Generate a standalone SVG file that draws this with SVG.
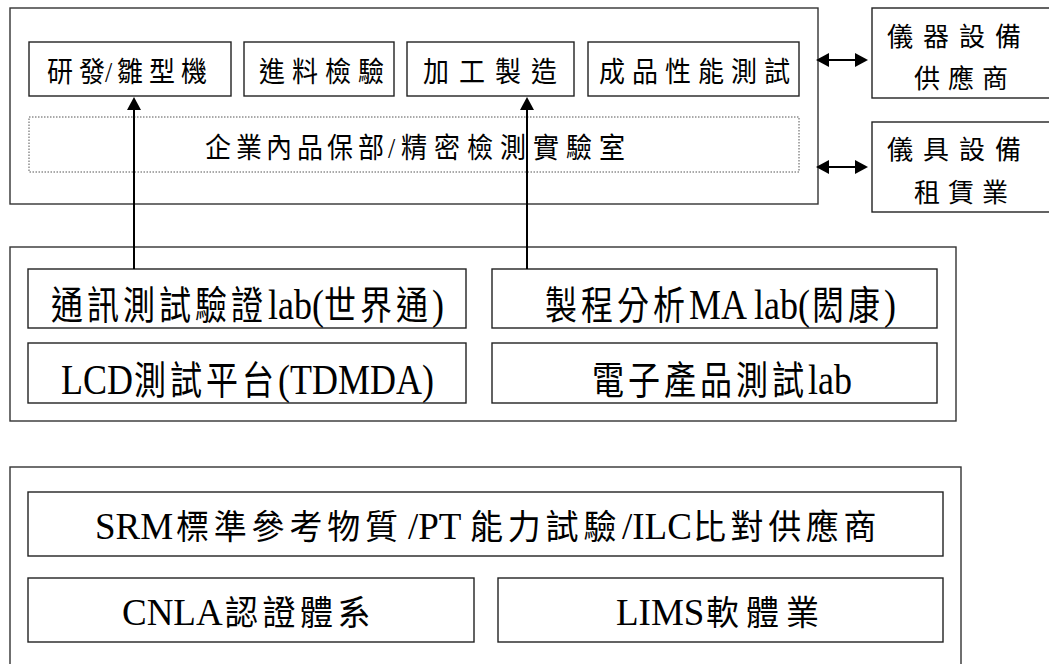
<svg xmlns="http://www.w3.org/2000/svg" width="1049" height="664" viewBox="0 0 1049 664">
  <style>
    .box { fill: #ffffff; stroke: #222222; stroke-width: 1.4; }
    .outer { fill: none; stroke: #333333; stroke-width: 1.4; }
    .dotted { fill: none; stroke: #555555; stroke-width: 1; stroke-dasharray: 1.5 1.5; }
    .link { fill: none; stroke: #000000; stroke-width: 2; }
    text { font-family: "Liberation Serif", "Noto Sans CJK TC", serif; fill: #000000; }
    .c { font-family: "Noto Sans CJK TC", "Noto Sans CJK SC", sans-serif; }
    .top .c { font-size: 26px; }
    .top .l { font-size: 26px; }
    .side .c { font-size: 26px; }
    .mid .c { font-size: 32px; }
    .mid .l { font-size: 36px; }
    .bot .c { font-size: 33px; }
    .bot .l { font-size: 37px; }
  </style>
  <defs>
    <marker id="head" viewBox="0 0 13 14" markerUnits="userSpaceOnUse" markerWidth="13" markerHeight="14" refX="6" refY="7" orient="auto-start-reverse">
      <path d="M0,0 L13,7 L0,14 z" fill="#000000"/>
    </marker>
  </defs>

  <!-- company-side block -->
  <g id="enterprise">
    <rect class="outer" x="10" y="8" width="808" height="196"/>
  </g>
  <g id="rd-prototype" class="top">
    <rect class="box" x="29" y="42" width="202" height="54"/>
    <text transform="translate(0,82) scale(1,1.1)"><tspan class="c" x="47 79" y="0">研發</tspan><tspan class="l" x="105" y="0">/</tspan><tspan class="c" x="117 149 181" y="0">雛型機</tspan></text>
  </g>
  <g id="incoming-inspection" class="top">
    <rect class="box" x="244" y="42" width="150" height="54"/>
    <text transform="translate(0,82) scale(1,1.1)"><tspan class="c" x="259 292 325 358" y="0">進料檢驗</tspan></text>
  </g>
  <g id="manufacturing" class="top">
    <rect class="box" x="407" y="42" width="167" height="54"/>
    <text transform="translate(0,82) scale(1,1.1)"><tspan class="c" x="423 459 495 531" y="0">加工製造</tspan></text>
  </g>
  <g id="product-test" class="top">
    <rect class="box" x="588" y="42" width="211" height="54"/>
    <text transform="translate(0,82) scale(1,1.1)"><tspan class="c" x="599 632 665 698 731 764" y="0">成品性能測試</tspan></text>
  </g>
  <g id="qa-lab" class="top">
    <rect class="dotted" x="29" y="117" width="770" height="55"/>
    <text transform="translate(0,158) scale(1,1.1)"><tspan class="c" x="205 236 266 297 327 358" y="0">企業內品保部</tspan><tspan class="l" x="388" y="0">/</tspan><tspan class="c" x="401 434 467 500 533 566 599" y="0">精密檢測實驗室</tspan></text>
  </g>

  <!-- equipment suppliers -->
  <g id="instrument-supplier" class="side">
    <rect class="box" x="872" y="8" width="190" height="90"/>
    <text><tspan class="c" x="887 923 959 995" y="46">儀器設備</tspan></text>
    <text><tspan class="c" x="914 948 982" y="88">供應商</tspan></text>
  </g>
  <g id="instrument-rental" class="side">
    <rect class="box" x="872" y="122" width="190" height="90"/>
    <text><tspan class="c" x="887 923 959 995" y="159">儀具設備</tspan></text>
    <text><tspan class="c" x="914 948 982" y="202">租賃業</tspan></text>
  </g>

  <!-- third-party labs -->
  <g id="labs">
    <rect class="outer" x="10" y="247" width="946" height="174"/>
  </g>
  <g id="telecom-lab" class="mid">
    <rect class="box" x="28" y="269" width="438" height="59"/>
    <text transform="translate(0,319) scale(1,1.2)"><tspan class="c" x="51 87 123 159 195 231" y="0">通訊測試驗證</tspan><tspan class="l" x="268" y="0">lab(</tspan><tspan class="c" x="324 360 396" y="0">世界通</tspan><tspan class="l" x="432" y="0">)</tspan></text>
  </g>
  <g id="process-lab" class="mid">
    <rect class="box" x="492" y="269" width="445" height="59"/>
    <text transform="translate(0,319) scale(1,1.2)"><tspan class="c" x="545 581 617 653" y="0">製程分析</tspan><tspan class="l" x="689" y="0">MA lab(</tspan><tspan class="c" x="812 848" y="0">閎康</tspan><tspan class="l" x="884" y="0">)</tspan></text>
  </g>
  <g id="lcd-platform" class="mid">
    <rect class="box" x="28" y="343" width="438" height="60"/>
    <text transform="translate(0,394) scale(1,1.2)"><tspan class="l" x="61" y="0">LCD</tspan><tspan class="c" x="134 170 206 242" y="0">測試平台</tspan><tspan class="l" x="278" y="0">(TDMDA)</tspan></text>
  </g>
  <g id="electronics-lab" class="mid">
    <rect class="box" x="492" y="343" width="445" height="60"/>
    <text transform="translate(0,394) scale(1,1.2)"><tspan class="c" x="592 628 664 700 736 772" y="0">電子產品測試</tspan><tspan class="l" x="808" y="0">lab</tspan></text>
  </g>

  <!-- supporting services -->
  <g id="services">
    <rect class="outer" x="10" y="467" width="951" height="220"/>
  </g>
  <g id="reference-materials" class="bot">
    <rect class="box" x="28" y="492" width="915" height="64"/>
    <text transform="translate(0,539) scale(1,1.05)"><tspan class="l" x="95" y="0">SRM</tspan><tspan class="c" x="176 213.8 251.6 289.4 327.2 365" y="0">標準參考物質</tspan><tspan class="l" x="408" y="0">/PT</tspan><tspan class="c" x="470 507.8 545.6 583.4" y="0">能力試驗</tspan><tspan class="l" x="622" y="0">/ILC</tspan><tspan class="c" x="693 730.6 768.2 805.8 843.4" y="0">比對供應商</tspan></text>
  </g>
  <g id="cnla" class="bot">
    <rect class="box" x="28" y="578" width="446" height="64"/>
    <text transform="translate(0,625) scale(1,1.05)"><tspan class="l" x="122" y="0">CNLA</tspan><tspan class="c" x="225 262.5 300 337.5" y="0">認證體系</tspan></text>
  </g>
  <g id="lims" class="bot">
    <rect class="box" x="498" y="578" width="445" height="64"/>
    <text transform="translate(0,625) scale(1,1.05)"><tspan class="l" x="616" y="0">LIMS</tspan><tspan class="c" x="706 746 786" y="0">軟體業</tspan></text>
  </g>

  <!-- connectors -->
  <g id="connectors">
    <line class="link" x1="134" y1="269" x2="134" y2="104" marker-end="url(#head)"/>
    <line class="link" x1="527" y1="269" x2="527" y2="104" marker-end="url(#head)"/>
    <line class="link" x1="823" y1="60" x2="861" y2="60" marker-start="url(#head)" marker-end="url(#head)"/>
    <line class="link" x1="823" y1="167" x2="861" y2="167" marker-start="url(#head)" marker-end="url(#head)"/>
  </g>
</svg>
